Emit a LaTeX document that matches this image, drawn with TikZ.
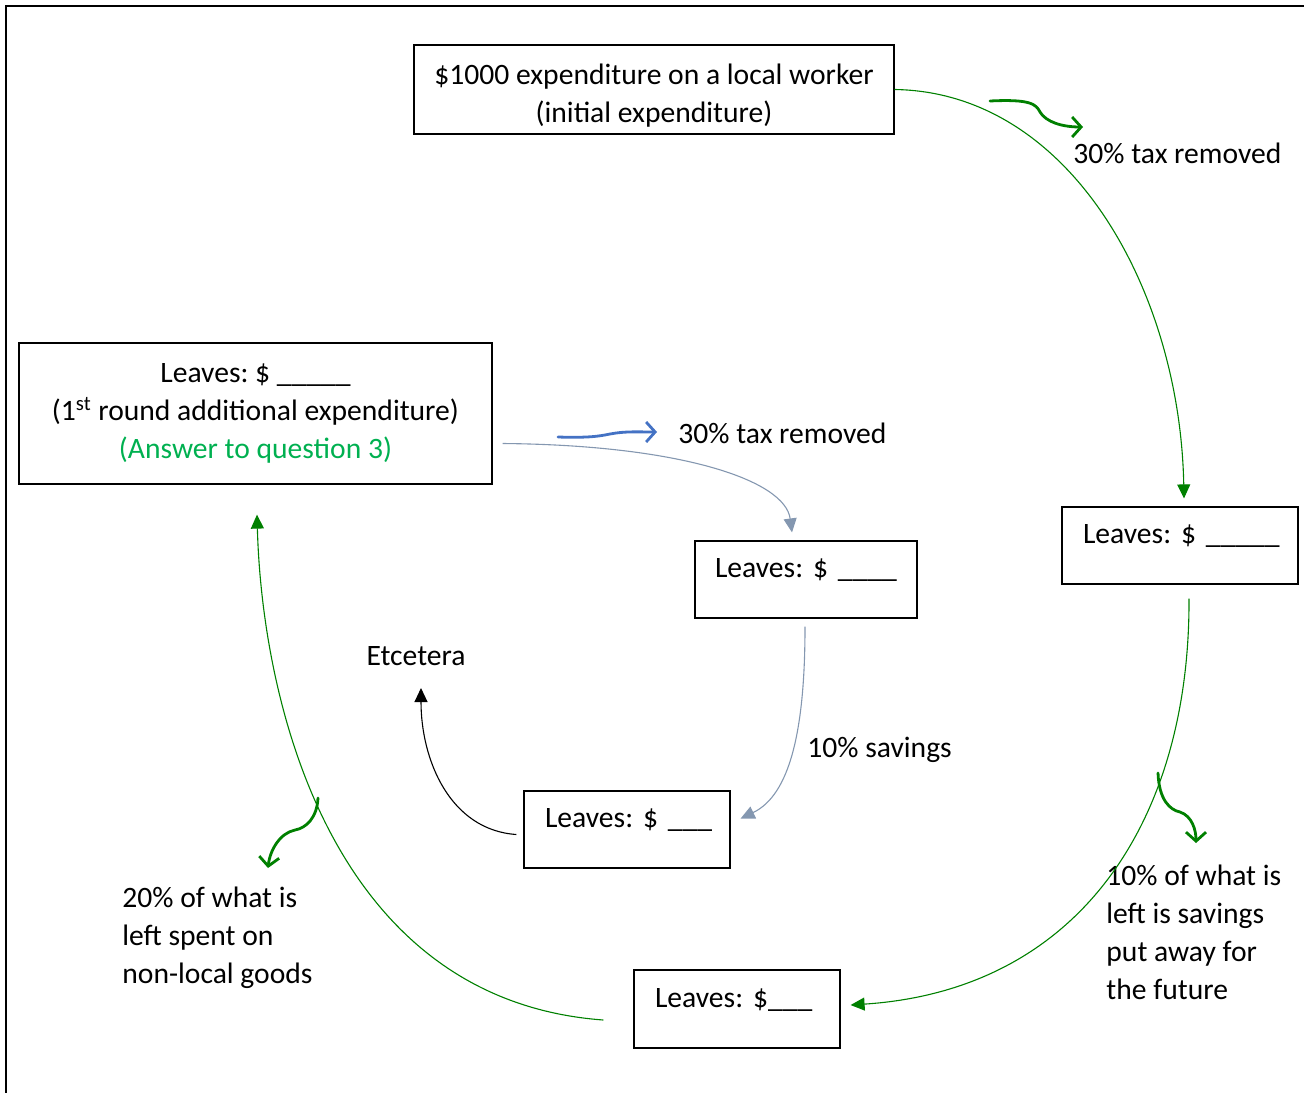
\documentclass[tikz,border=0pt]{standalone}
\usepackage{fontspec}
\setmainfont{Carlito}
\usepackage{tikz}
\usetikzlibrary{arrows.meta}

\definecolor{flowgreen}{RGB}{0,128,0}
\definecolor{answergreen}{RGB}{0,176,80}
\definecolor{slateblue}{RGB}{132,151,176}
\definecolor{markblue}{RGB}{68,114,196}

\tikzset{
  box/.style={draw, line width=0.6pt, inner sep=0pt},
  leafbox/.style={box, align=left, text height=10pt, text depth=11.6pt},
  flow/.style={line width=0.55pt, -{Triangle[length=7pt,width=6.5pt]}},
  squiggle/.style={line width=1.4pt, line cap=round, -{Straight Barb[length=4.5pt,width=10pt,line width=1.4pt]}},
  note/.style={align=left, anchor=west, inner sep=0pt}
}

\begin{document}
\begin{tikzpicture}[x=0.5pt,y=-0.5pt,font=\fontsize{14.8}{19}\selectfont\frenchspacing]
   \useasboundingbox (0,0) rectangle (1304,1093);
   % frame (runs off the page right and below)
   \draw[line width=1.2pt] (1304,6) -- (6,6) -- (6,1093);

   % boxes
   \node[box, align=center, minimum width=240pt, minimum height=44.5pt, text height=35pt] (init) at (654,89.5)
      {\$1000 expenditure on a local worker\\(initial expenditure)};
   \node[box, align=center, minimum width=236.5pt, minimum height=70.5pt] (first) at (255.5,413.5)
      {Leaves: \$~\_\_\_\_\_\\(1\textsuperscript{st} round additional expenditure)\\
       \textcolor{answergreen}{(Answer to question 3)}};
   \node[leafbox, minimum width=118pt, minimum height=38.5pt, text width=97pt] (lvA) at (1180,545.5)
      {\mbox{Leaves: \$ \_\_\_\_\_}};
   \node[leafbox, minimum width=103pt, minimum height=39pt, text width=82pt] (lvB) at (737,1009)
      {\mbox{Leaves: \$\_\_\_}};
   \node[leafbox, minimum width=111pt, minimum height=38.5pt, text width=91pt] (lvC) at (806,579.5)
      {\mbox{Leaves: \$ \_\_\_\_}};
   \node[leafbox, minimum width=103pt, minimum height=38.5pt, text width=82pt] (lvD) at (627,829.5)
      {\mbox{Leaves: \$ \_\_\_}};
   \node[inner sep=0pt] (etc) at (416,656) {Etcetera};

   % labels
   \node[note] (taxA) at (1073,153) {30\% tax removed};
   \node[note] (taxB) at (678,433) {30\% tax removed};
   \node[note] (saveB) at (807,750) {10\% savings};
   \node[note] (saveA) at (1106,932) {10\% of what is\\left is savings\\put away for\\the future};
   \node[note] (leak) at (122,938) {20\% of what is\\left spent on\\non-local goods};

   % main round
   \draw[flow, flowgreen] (init.east) .. controls (1070,92) and (1180,290) .. ([xshift=2pt,yshift=4pt]lvA.north);
   \draw[flow, flowgreen] ([xshift=4.5pt,yshift=-7pt]lvA.south) .. controls (1190,820) and (1080,990) .. ([xshift=5pt,yshift=2pt]lvB.east);
   \draw[flow, flowgreen] ([xshift=-15pt,yshift=-5.5pt]lvB.west) .. controls (330,1000) and (262,700) .. ([xshift=0.75pt,yshift=-15pt]first.south);

   % second round
   \draw[flow, slateblue] ([xshift=5pt,yshift=-15pt]first.east) .. controls (680,445) and (785,480) .. ([xshift=-7pt,yshift=4pt]lvC.north);
   \draw[flow, slateblue] ([xshift=-0.5pt,yshift=-4pt]lvC.south) .. controls (805,730) and (790,795) .. ([xshift=5pt,yshift=5.5pt]lvD.east);
   \draw[flow, black] ([xshift=-3.5pt,yshift=-2.5pt]lvD.west) .. controls (450,830) and (421,760) .. ([xshift=2.5pt,yshift=-11pt]etc.south);

   % little markers
   \coordinate (sqA1) at (990,101);   \coordinate (sqA2) at (1083,127);
   \coordinate (sqB1) at (558,437);   \coordinate (sqB2) at (657,432);
   \coordinate (sqC1) at (1158,773);  \coordinate (sqC2) at (1196,843);
   \coordinate (sqD1) at (318,798);   \coordinate (sqD2) at (268,868);
   \draw[squiggle, flowgreen] (sqA1) .. controls (1030,99) and (1036,104) .. (1040,112) .. controls (1046,122) and (1062,127) .. (sqA2);
   \draw[squiggle, markblue] (sqB1) .. controls (590,438) and (600,436) .. (610,434) .. controls (625,431) and (640,432) .. (sqB2);
   \draw[squiggle, flowgreen] (sqC1) .. controls (1159,800) and (1170,810) .. (1180,812) .. controls (1192,816) and (1196,830) .. (sqC2);
   \draw[squiggle, flowgreen] (sqD1) .. controls (317,818) and (306,828) .. (295,830) .. controls (280,833) and (270,850) .. (sqD2);
\end{tikzpicture}
\end{document}
